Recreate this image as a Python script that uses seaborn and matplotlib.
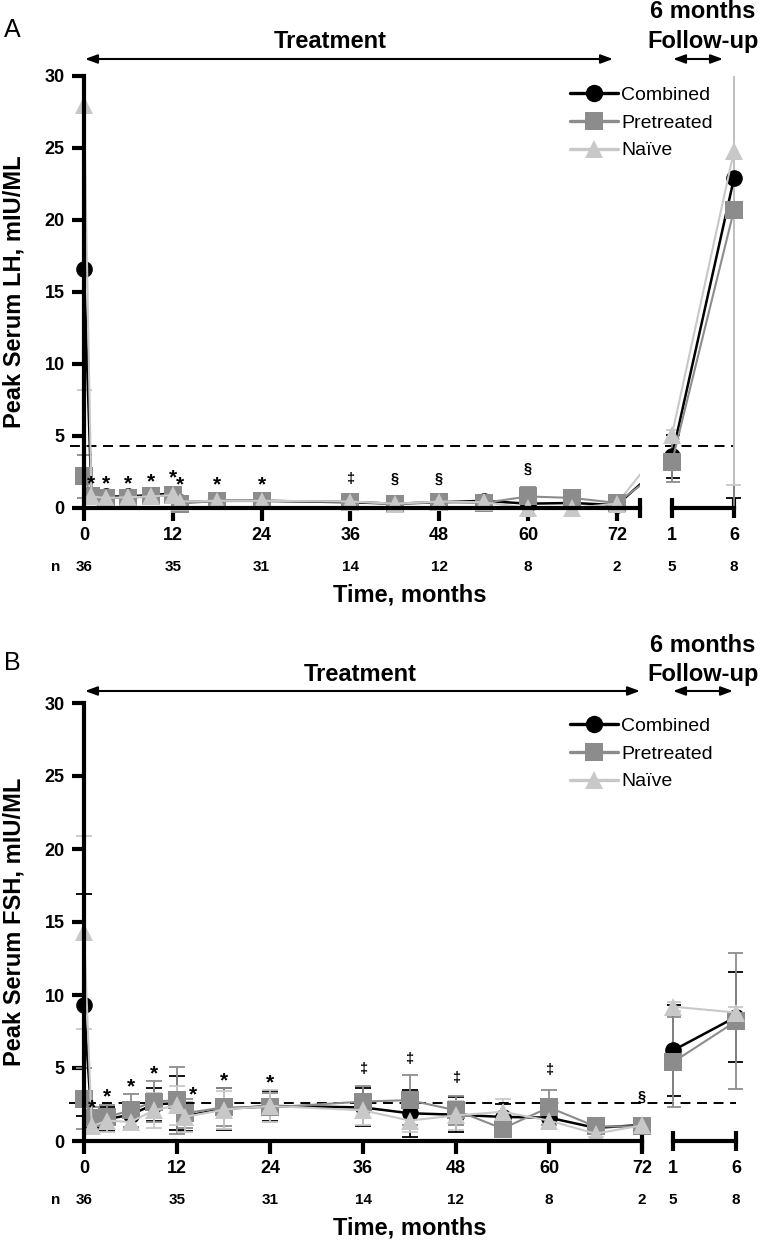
import pandas as pd
import seaborn as sns
import matplotlib.pyplot as plt

# --- Values (group mean +/- SD) ---
groups = ["Combined", "Pretreated", "Naïve"]
months = [0, 1, 3, 6, 9, 12, 13, 18, 24, 36, 42, 48, 54, 60, 66, 72]
followup = [1, 6]
main_ticks = [0, 12, 24, 36, 48, 60, 72]
n_main = [36, 35, 31, 14, 12, 8, 2]
n_follow = [5, 8]

# Panel A: peak LH
lh_comb = [16.6, 0.9, 0.8, 0.8, 0.9, 1.0, 0.4, 0.5, 0.5, 0.4, 0.3, 0.4, 0.5, 0.3, 0.35, 0.2]
lh_comb_sd = [14.5, 0.3, 0.3, 0.3, 0.3, 0.3, 0.2, 0.2, 0.2, 0.2, 0.1, 0.2, 0.3, 0.2, 0.1, 0.1]
lh_pre = [2.2, 0.8, 0.7, 0.7, 0.8, 0.9, 0.3, 0.5, 0.5, 0.45, 0.3, 0.4, 0.35, 0.8, 0.7, 0.35]
lh_pre_sd = [1.5, 0.2, 0.2, 0.2, 0.2, 0.3, 0.1, 0.2, 0.2, 0.2, 0.1, 0.2, 0.1, 0.65, 0.2, 0.1]
lh_naive = [28.0, 0.8, 0.7, 0.75, 0.8, 0.9, 0.45, 0.5, 0.5, 0.45, 0.3, 0.45, 0.4, 0.0, 0.0, 0.3]
lh_naive_sd = [19.8, 0.2, 0.2, 0.2, 0.2, 0.3, 0.1, 0.2, 0.2, 0.2, 0.1, 0.2, 0.1, 0.05, 0.05, 0.1]
lh_comb_fu = [3.6, 22.9]
lh_comb_fu_sd = [1.5, 22.2]
lh_pre_fu = [3.2, 20.7]
lh_pre_fu_sd = [1.4, 21.0]
lh_naive_fu = [5.1, 24.8]
lh_naive_fu_sd = [0.3, 23.2]
lh_threshold = 4.3
lh_sig_x = [1, 3, 6, 9, 12, 13, 18, 24, 36, 42, 48, 60]
lh_sig_sym = ["*"] * 8 + ["‡", "§", "§", "§"]
lh_sig_y = [2.1, 2.1, 2.1, 2.25, 2.5, 2.0, 2.0, 2.0, 2.0, 2.05, 2.05, 2.7]

# Panel B: peak FSH
fsh_comb = [9.3, 1.3, 1.5, 1.8, 2.5, 2.6, 1.7, 2.2, 2.4, 2.3, 1.9, 1.8, 1.65, 1.6, 0.9, 1.1]
fsh_comb_sd = [7.6, 0.5, 0.8, 0.9, 1.1, 1.85, 1.0, 1.45, 1.0, 1.3, 1.6, 1.2, 0.9, 0.8, 0.3, 0.4]
fsh_pre = [2.9, 1.6, 1.65, 2.1, 2.7, 2.8, 1.9, 2.3, 2.3, 2.7, 2.8, 2.1, 0.85, 2.3, 1.0, 1.0]
fsh_pre_sd = [2.1, 0.7, 0.85, 1.15, 1.4, 2.3, 1.0, 1.3, 1.0, 1.1, 1.7, 1.0, 0.4, 1.2, 0.3, 0.4]
fsh_naive = [14.3, 1.0, 1.4, 1.3, 2.1, 2.45, 1.65, 2.15, 2.4, 2.1, 1.4, 1.75, 2.0, 1.4, 0.5, 1.07]
fsh_naive_sd = [6.6, 0.4, 0.8, 0.5, 1.2, 1.35, 1.0, 1.3, 1.1, 1.0, 0.8, 1.0, 0.9, 0.6, 0.2, 0.3]
fsh_comb_fu = [6.2, 8.5]
fsh_comb_fu_sd = [3.1, 3.1]
fsh_pre_fu = [5.4, 8.2]
fsh_pre_fu_sd = [3.1, 4.65]
fsh_naive_fu = [9.2, 8.8]
fsh_naive_fu_sd = [0.3, 0.4]
fsh_threshold = 2.6
fsh_sig_x = [1, 3, 6, 9, 14, 18, 24, 36, 42, 48, 60, 72]
fsh_sig_sym = ["*"] * 7 + ["‡"] * 4 + ["§"]
fsh_sig_y = [2.65, 3.4, 4.1, 5.0, 3.6, 4.5, 4.4, 4.95, 5.6, 4.3, 4.85, 3.0]

# --- Styling ---
colors = {"Combined": "#000000", "Pretreated": "#8c8c8c", "Naïve": "#c8c8c8"}
markers = {"Combined": "o", "Pretreated": "s", "Naïve": "^"}
marker_group = {m: g for g, m in markers.items()}
msize = {"Combined": 12, "Pretreated": 13, "Naïve": 13}
lwidth = {"Combined": 1.8, "Pretreated": 1.5, "Naïve": 1.5}
glyph_mid = {"*": 0.55, "‡": 0.27, "§": 0.27}   # visual centre of glyph, in em
glyph_size = {"*": 15, "‡": 10.5, "§": 10.5}

W, H = 762, 1244


def fx(px):
    return px / W


def fy(py):
    return 1 - py / H


def box(left, right, top, bottom):
    return [fx(left), fy(bottom), (right - left) / W, (bottom - top) / H]


def to_long(x, series):
    rows = []
    for g, (vals, sds) in series.items():
        for t, v, s in zip(x, vals, sds):
            rows.append({"Time": t, "Value": v, "SD": s, "Group": g})
    return pd.DataFrame(rows)


def draw_series(ax, df, legend=False):
    for g in groups:
        sub = df[df["Group"] == g]
        ax.errorbar(sub["Time"], sub["Value"], yerr=sub["SD"], fmt="none",
                    ecolor=colors[g], elinewidth=1.3, capsize=6, capthick=1.3,
                    zorder=1.5)
    sns.lineplot(data=df, x="Time", y="Value", hue="Group", style="Group",
                 hue_order=groups, style_order=groups, palette=colors,
                 markers=markers, dashes=False, estimator=None, errorbar=None,
                 sort=False, legend=legend, markeredgewidth=0, clip_on=False,
                 ax=ax)
    for line in ax.get_lines():
        g = marker_group.get(line.get_marker())
        if g:
            line.set_markersize(msize[g])
            line.set_linewidth(lwidth[g])
            line.set_zorder(2 + 0.1 * groups.index(g))


sns.set_style("ticks")
plt.rcParams["font.family"] = ["Liberation Sans", "DejaVu Sans"]
plt.rcParams.update({"axes.edgecolor": "black", "text.color": "black",
                     "xtick.color": "black", "ytick.color": "black",
                     "axes.labelcolor": "black"})

fig = plt.figure(figsize=(W / 100, H / 100), dpi=100)

panels = [
    dict(letter="A", ylabel="Peak Serum LH, mIU/ML", top=76, bottom=508,
         zero=84, per=7.4, xmax=75.1, fu1=672, fu6=734, bridge=True,
         main=[(lh_comb, lh_comb_sd), (lh_pre, lh_pre_sd), (lh_naive, lh_naive_sd)],
         fu=[(lh_comb_fu, lh_comb_fu_sd), (lh_pre_fu, lh_pre_fu_sd), (lh_naive_fu, lh_naive_fu_sd)],
         thr=lh_threshold, sig=(lh_sig_x, lh_sig_y, lh_sig_sym),
         head_y=48, six_y=18, arrow_y=59, treat_x=330, arrow_end=613, fu_arrow=(673, 723),
         legend_top=86),
    dict(letter="B", ylabel="Peak Serum FSH, mIU/ML", top=703, bottom=1141,
         zero=84, per=7.75, xmax=72, fu1=673, fu6=736, bridge=False,
         main=[(fsh_comb, fsh_comb_sd), (fsh_pre, fsh_pre_sd), (fsh_naive, fsh_naive_sd)],
         fu=[(fsh_comb_fu, fsh_comb_fu_sd), (fsh_pre_fu, fsh_pre_fu_sd), (fsh_naive_fu, fsh_naive_fu_sd)],
         thr=fsh_threshold, sig=(fsh_sig_x, fsh_sig_y, fsh_sig_sym),
         head_y=681, six_y=652, arrow_y=691, treat_x=360, arrow_end=640, fu_arrow=(673, 733),
         legend_top=717),
]

for p in panels:
    left = p["zero"] - p["per"]
    right = p["zero"] + p["per"] * p["xmax"]
    ax = fig.add_axes(box(left, right, p["top"], p["bottom"]))
    fper = (p["fu6"] - p["fu1"]) / 5
    fu = fig.add_axes(box(p["fu1"] - 0.5 * fper, p["fu6"] + 0.5 * fper, p["top"], p["bottom"]))

    df_main = to_long(months, dict(zip(groups, p["main"])))
    df_fu = to_long(followup, dict(zip(groups, p["fu"])))
    draw_series(ax, df_main, legend=True)
    draw_series(fu, df_fu)

    # legend rebuilt from seaborn's handles
    leg = ax.get_legend()
    handles = leg.legend_handles
    labels = [t.get_text() for t in leg.get_texts()]
    leg.remove()
    for h, lab in zip(handles, labels):
        h.set_linewidth(2.4)
        h.set_markersize(msize[lab] + 0.5)
        h.set_markeredgewidth(0)
    fig.legend(handles, labels, loc="upper left",
               bbox_to_anchor=(fx(570), fy(p["legend_top"])),
               frameon=False, fontsize=14, handlelength=2.47,
               handletextpad=0.15, labelspacing=0.53, borderpad=0,
               borderaxespad=0)

    # main axis (spine moved first: it resets the ticks)
    ax.spines[["top", "right"]].set_visible(False)
    ax.spines["left"].set_position(("data", 0))
    ax.set_xlim(-1, p["xmax"])
    ax.set_ylim(0, 30)
    ax.set_xlabel("")
    ax.set_ylabel("")
    ax.set_xticks(main_ticks, labels=[str(t) for t in main_ticks],
                  fontsize=13, fontweight="bold")
    ax.set_yticks(range(0, 31, 5), labels=[str(v) for v in range(0, 31, 5)],
                  fontsize=13, fontweight="bold")
    ax.set_xticks([p["xmax"]], minor=True)
    ax.xaxis.remove_overlapping_locs = False
    ax.spines["left"].set_bounds(0, 30)
    ax.spines["bottom"].set_bounds(0, p["xmax"])
    for s in ("left", "bottom"):
        ax.spines[s].set_linewidth(3)
    ax.tick_params(which="major", width=3, length=9, pad=5, color="black")
    ax.tick_params(axis="x", which="minor", direction="inout", length=14, width=3)

    # follow-up axis
    fu.set_xlim(0.5, 6.5)
    fu.set_ylim(0, 30)
    fu.set_xlabel("")
    fu.set_ylabel("")
    fu.set_xticks(followup, labels=[str(t) for t in followup],
                  fontsize=13, fontweight="bold")
    fu.set_yticks([])
    for s in ("top", "right", "left"):
        fu.spines[s].set_visible(False)
    fu.spines["bottom"].set_bounds(1, 6)
    fu.spines["bottom"].set_linewidth(3)
    fu.tick_params(axis="x", direction="inout", width=3, length=14, pad=7)
    fu.patch.set_alpha(0)

    # line running from the last treatment point towards the follow-up (panel A)
    if p["bridge"]:
        x_fu = ax.transData.inverted().transform(fu.transData.transform((followup[0], 0)))[0]
        for g, (vals, _), (fvals, _) in zip(groups, p["main"], p["fu"]):
            ax.plot([months[-1], x_fu], [vals[-1], fvals[0]], color=colors[g],
                    lw=lwidth[g], zorder=1.9, clip_on=True)

    # dashed reference line across both axes
    a0 = ax.transAxes.transform((0, 0))[0]
    a1 = ax.transAxes.transform((1, 0))[0]
    x_end = (fu.transData.transform((followup[-1], 0))[0] - a0) / (a1 - a0)
    ax.plot([-0.012, x_end], [p["thr"], p["thr"]], transform=ax.get_yaxis_transform(),
            color="black", lw=1.4, ls=(0, (5.1, 3.4)), clip_on=False, zorder=1.8)

    # significance marks
    for x, y, s in zip(*p["sig"]):
        ax.annotate(s, xy=(x, y), xytext=(0, -glyph_mid[s] * glyph_size[s]),
                    textcoords="offset points", ha="center", va="baseline",
                    fontsize=glyph_size[s], fontweight="bold", annotation_clip=False)

    # n per time point
    for t, n in zip(main_ticks, n_main):
        ax.annotate(str(n), xy=(t, 0), xytext=(0, -42.5), textcoords="offset points",
                    ha="center", va="center", fontsize=11, fontweight="bold",
                    annotation_clip=False)
    for t, n in zip(followup, n_follow):
        fu.annotate(str(n), xy=(t, 0), xytext=(0, -42.5), textcoords="offset points",
                    ha="center", va="center", fontsize=11, fontweight="bold",
                    annotation_clip=False)
    fig.text(fx(56), fy(p["bottom"] + 59), "n", ha="center", va="center",
             fontsize=11, fontweight="bold")

    # labels and headers
    fig.text(fx(410), fy(p["bottom"] + 87), "Time, months", ha="center", va="center",
             fontsize=17, fontweight="bold")
    fig.text(fx(14), fy((p["top"] + p["bottom"]) / 2), p["ylabel"], rotation=90,
             ha="center", va="center", fontsize=17, fontweight="bold")
    fig.text(fx(4), fy(p["head_y"] - 11), p["letter"], fontsize=18, va="baseline")
    fig.text(fx(p["treat_x"]), fy(p["head_y"]), "Treatment", ha="center",
             va="baseline", fontsize=17, fontweight="bold")
    fig.text(fx(703), fy(p["six_y"]), "6 months", ha="center", va="baseline",
             fontsize=17, fontweight="bold")
    fig.text(fx(703), fy(p["head_y"]), "Follow-up", ha="center", va="baseline",
             fontsize=17, fontweight="bold")
    arrow = dict(arrowstyle="<|-|>,head_length=0.6,head_width=0.22", lw=1.5,
                 color="black", shrinkA=0, shrinkB=0, mutation_scale=12)
    ax.annotate("", xy=(fx(p["arrow_end"]), fy(p["arrow_y"])),
                xytext=(fx(85), fy(p["arrow_y"])), xycoords="figure fraction",
                textcoords="figure fraction", arrowprops=arrow)
    ax.annotate("", xy=(fx(p["fu_arrow"][1]), fy(p["arrow_y"])),
                xytext=(fx(p["fu_arrow"][0]), fy(p["arrow_y"])), xycoords="figure fraction",
                textcoords="figure fraction", arrowprops=arrow)

plt.savefig("out.png", dpi=100)
